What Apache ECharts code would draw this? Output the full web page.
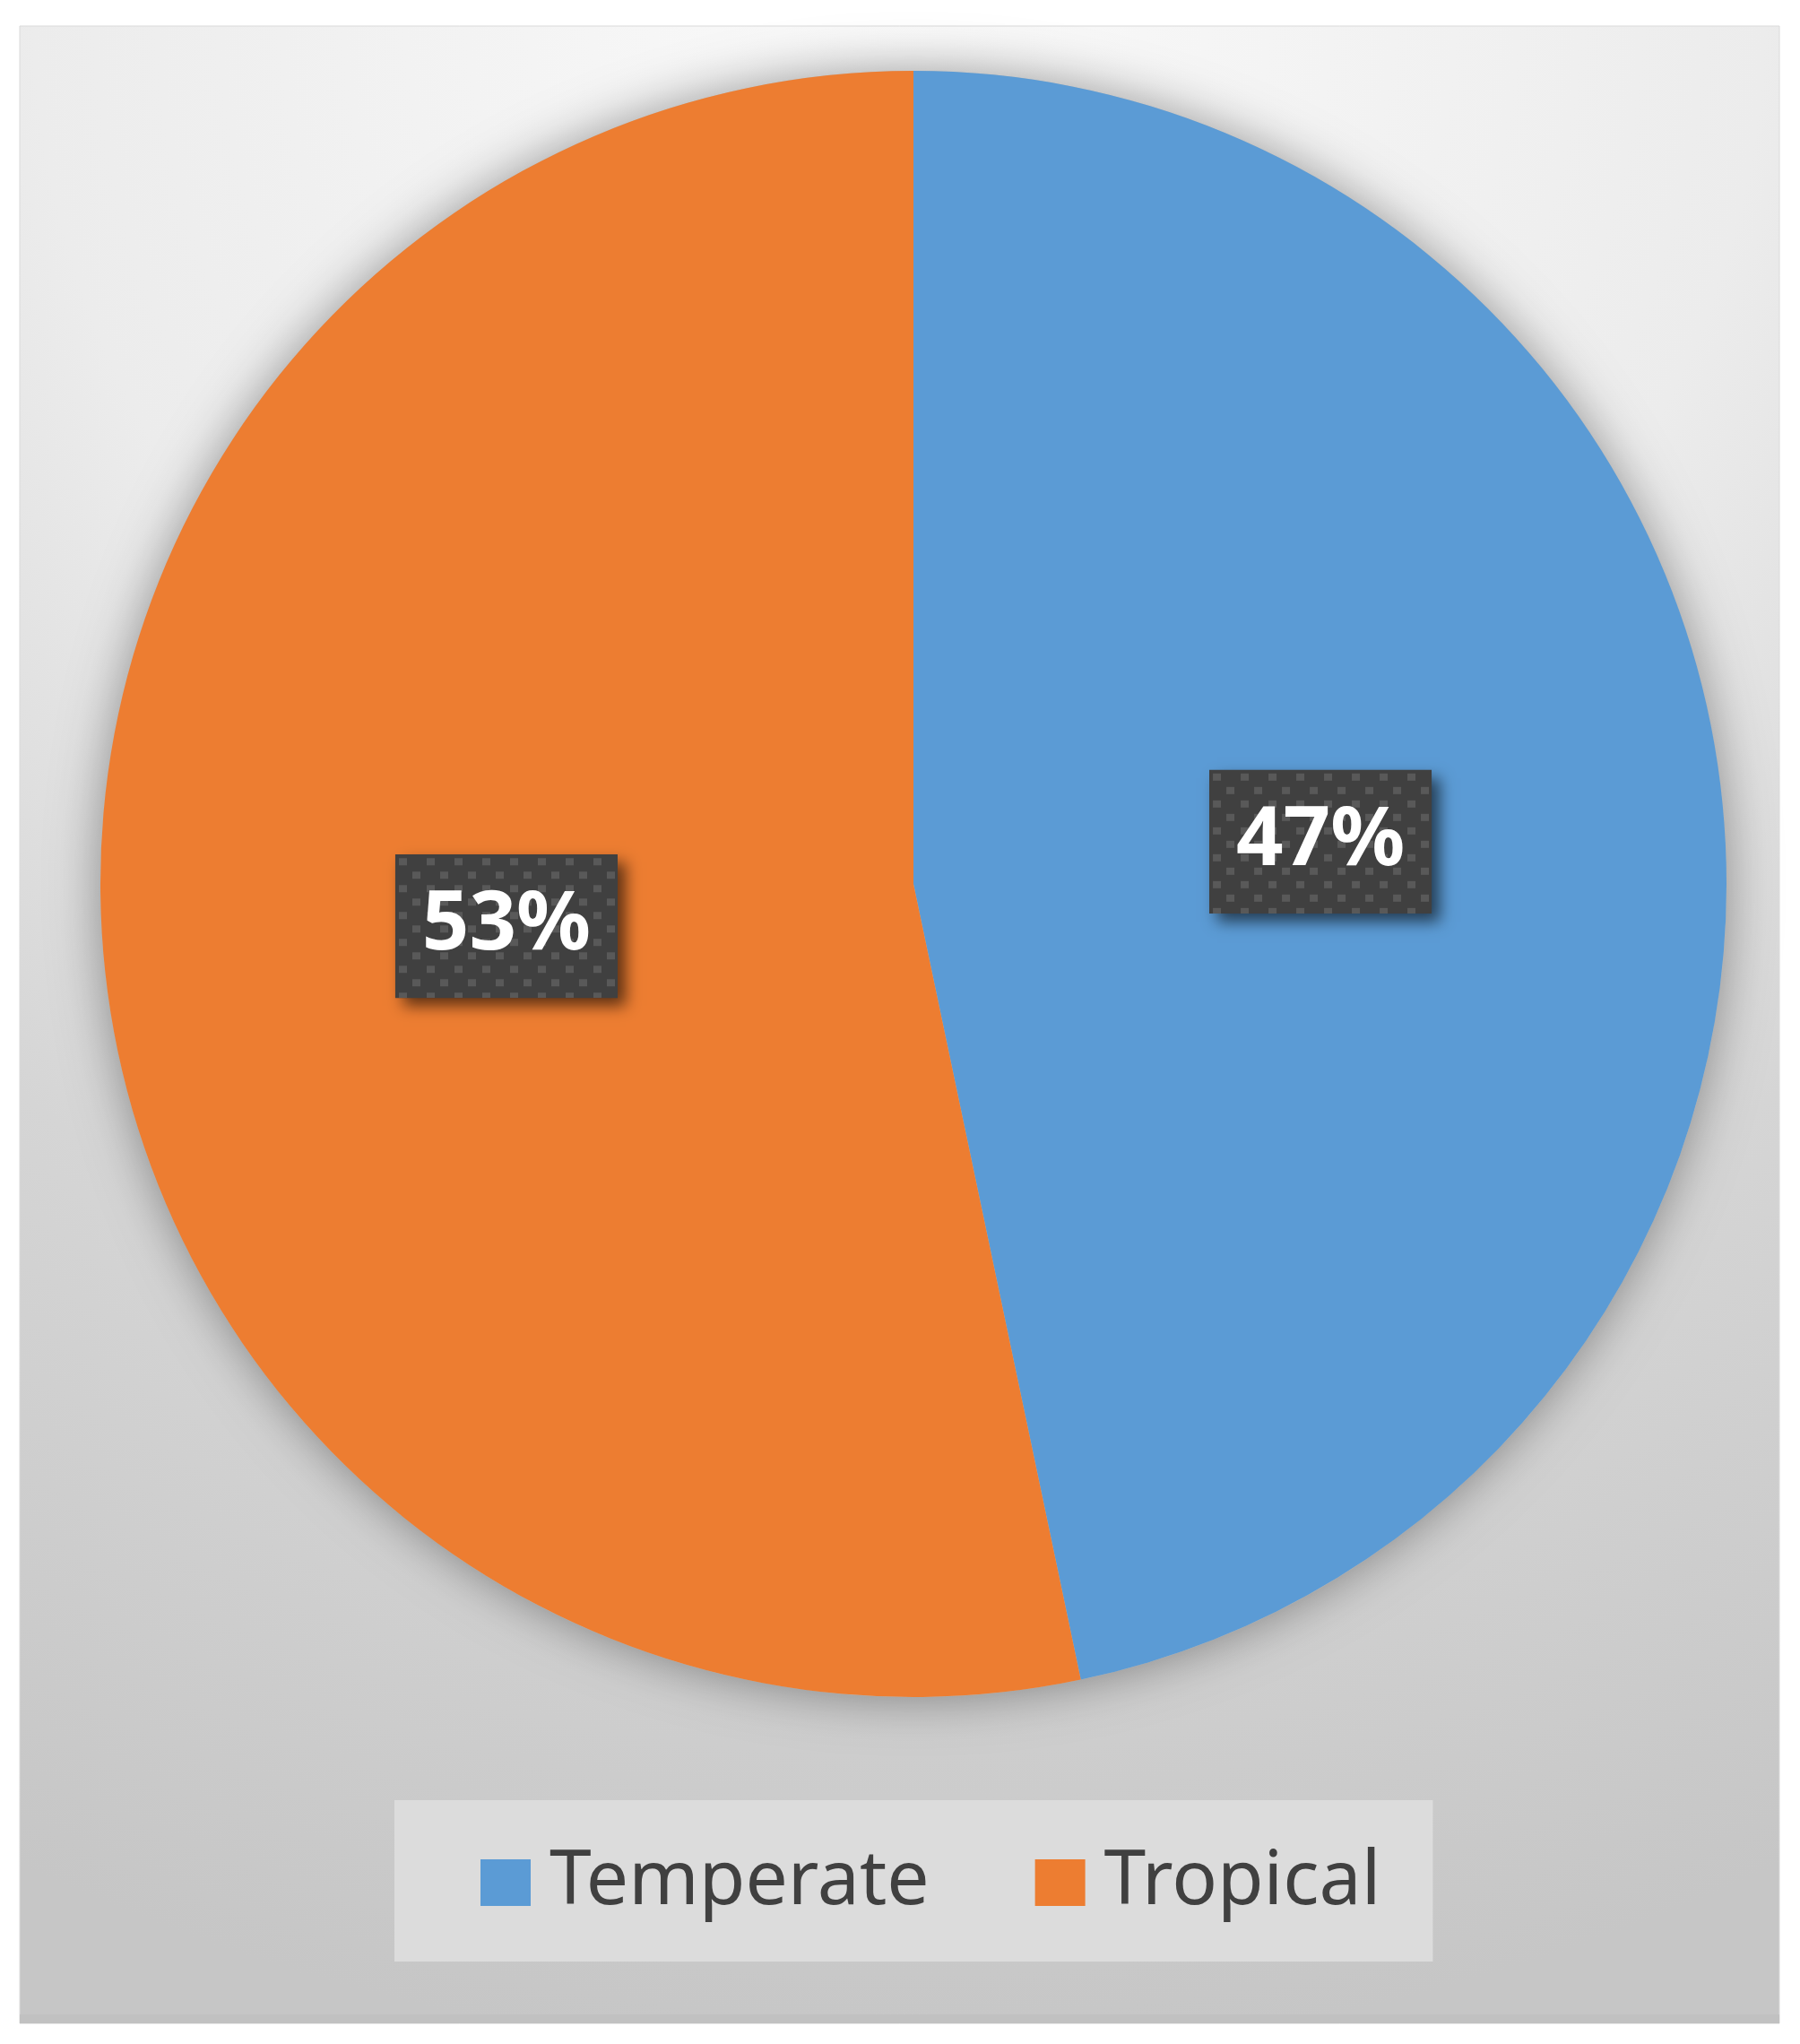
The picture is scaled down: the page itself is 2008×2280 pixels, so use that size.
<!DOCTYPE html>
<html>
<head>
<meta charset="utf-8">
<script src="https://cdn.jsdelivr.net/npm/echarts@6/dist/echarts.min.js"></script>
<style>
  html, body { margin: 0; padding: 0; background: #fff; }
  #chart { width: 2008px; height: 2280px; }
</style>
</head>
<body>
<div id="chart"></div>
<script>
const categories = ['Temperate', 'Tropical']
const shares = [46.7, 53.3]
const sliceColors = ['#5b9bd5', '#ed7d31']

// dark dotted texture behind the percent labels
function dotPattern(w, h) {
  const c = document.createElement('canvas')
  c.width = w
  c.height = h
  const ctx = c.getContext('2d')
  ctx.fillStyle = '#404040'
  ctx.fillRect(0, 0, w, h)
  ctx.fillStyle = '#595959'
  for (let row = 0; row * 15 < h; row++) {
    for (let x = (row % 2) * 15; x < w; x += 31) {
      ctx.fillRect(x + 4, row * 15 + 4, 9, 8)
    }
  }
  return c
}

const labelBg = dotPattern(248, 160)
const chart = echarts.init(document.getElementById('chart'))

chart.setOption({
  animation: false,
  graphic: [
    {
      type: 'rect',
      z: -10,
      shape: { x: 22, y: 29, width: 1963, height: 2228 },
      style: {
        fill: new echarts.graphic.RadialGradient(1003, 0, 2300, [
          { offset: 0, color: '#fafafa' },
          { offset: 0.42, color: '#ececec' },
          { offset: 0.68, color: '#d5d5d5' },
          { offset: 1, color: '#c6c6c6' },
        ], true),
        stroke: '#dadada',
        lineWidth: 1,
      },
    },
    {
      type: 'rect',
      z: -9,
      shape: { x: 22, y: 2247, width: 1963, height: 10 },
      style: { fill: '#c1c1c1' },
    },
  ],
  legend: {
    data: categories,
    left: 440,
    top: 2008,
    orient: 'horizontal',
    selectedMode: false,
    backgroundColor: '#dcdcdc',
    padding: [50, 58, 46, 96],
    icon: 'rect',
    itemWidth: 56,
    itemHeight: 52,
    itemGap: 118,
    textStyle: {
      fontFamily: 'Noto Sans',
      fontSize: 84,
      color: '#404040',
      padding: [0, 0, 0, 16],
    },
  },
  series: [
    {
      // soft shadow under the whole pie
      type: 'pie',
      silent: true,
      center: [1019, 986],
      radius: 907,
      startAngle: 90,
      label: { show: false },
      labelLine: { show: false },
      data: [{ name: 'shadow', value: shares.reduce((a, b) => a + b, 0) }],
      itemStyle: {
        color: '#bbbbbb',
        shadowBlur: 55,
        shadowColor: 'rgba(0,0,0,0.38)',
      },
    },
    {
      type: 'pie',
      center: [1019, 986],
      radius: 907,
      startAngle: 90,
      clockwise: true,
      data: categories.map((name, i) => ({
        name,
        value: shares[i],
        itemStyle: { color: sliceColors[i] },
      })),
      itemStyle: { borderWidth: 0 },
      label: {
        show: true,
        position: 'inside',
        formatter: p => '{v|' + Math.round(p.percent) + '%}',
        backgroundColor: '#404040',
        padding: 0,
        shadowColor: 'rgba(0,0,0,0.6)',
        shadowBlur: 16,
        shadowOffsetX: 9,
        shadowOffsetY: 9,
        rich: {
          v: {
            fontFamily: 'Noto Sans',
            fontWeight: 'bold',
            fontSize: 92,
            color: '#ffffff',
            width: 248,
            height: 160,
            lineHeight: 160,
            align: 'center',
            backgroundColor: { image: labelBg },
          },
        },
      },
      labelLine: { show: false },
      emphasis: { disabled: true },
    },
  ],
})
</script>
</body>
</html>
